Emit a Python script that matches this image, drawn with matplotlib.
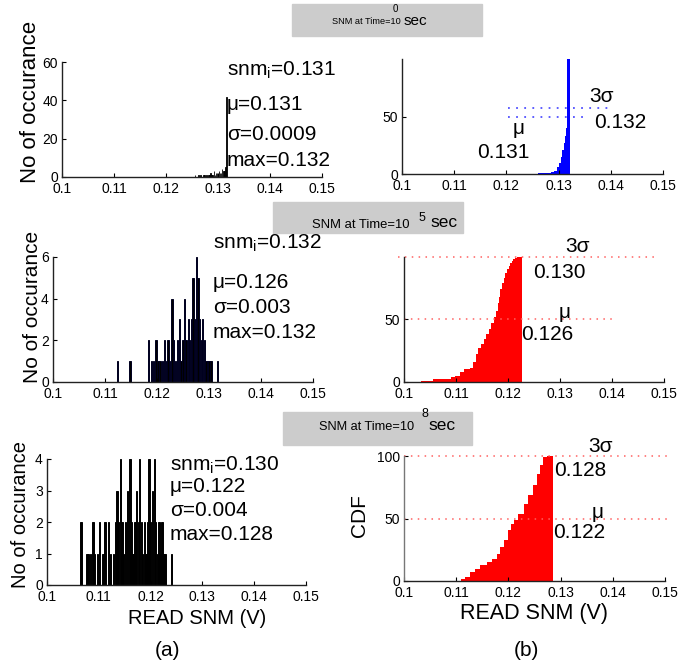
import numpy as np
import matplotlib
matplotlib.use("Agg")
import matplotlib.pyplot as plt
from matplotlib.patches import Rectangle

plt.rcParams['font.family'] = ['Liberation Sans', 'DejaVu Sans']
plt.rcParams['mathtext.fontset'] = 'custom'
plt.rcParams['mathtext.rm'] = 'Liberation Sans'

# ---------------- data ----------------
x_ticks = [0.10, 0.11, 0.12, 0.13, 0.14, 0.15]
x_tick_labels = ["0.1", "0.11", "0.12", "0.13", "0.14", "0.15"]

# Histograms (bin centres, counts)
h1_x = [0.1256 + 0.0002 * i for i in range(31)]
h1_c = [1, 0, 0, 1, 0, 1, 0, 0, 1, 1, 0, 1, 0, 1, 1, 2, 1, 1, 3, 1,
        2, 2, 1, 3, 2, 2, 4, 3, 3, 5, 42]

h2_x = [0.1124, 0.1148, 0.1184, 0.1190, 0.1193, 0.1198, 0.1202, 0.1206, 0.1210, 0.1214,
        0.1218, 0.1221, 0.1224, 0.1229, 0.1232, 0.1236, 0.1240, 0.1243, 0.1246, 0.1250,
        0.1253, 0.1256, 0.1260, 0.1263, 0.1266, 0.1269, 0.1272, 0.1276, 0.1279, 0.1282,
        0.1285, 0.1288, 0.1291, 0.1294, 0.1297, 0.1300, 0.1304, 0.1316]
h2_c = [1, 1, 2, 1, 1, 2, 1, 1, 1, 2, 1, 2, 1, 4, 2, 1, 2, 3, 1, 2,
        4, 2, 3, 2, 3, 5, 3, 6, 5, 3, 2, 3, 2, 1, 1, 1, 1, 1]

h3_x = [0.1064, 0.1067, 0.1077, 0.1080, 0.1084, 0.1089, 0.1092, 0.1098, 0.1102, 0.1108,
        0.1112, 0.1118, 0.1122, 0.1128, 0.1132, 0.1135, 0.1138, 0.1142, 0.1145, 0.1148,
        0.1152, 0.1156, 0.1160, 0.1163, 0.1166, 0.1170, 0.1173, 0.1176, 0.1179, 0.1182,
        0.1185, 0.1188, 0.1191, 0.1194, 0.1197, 0.1200, 0.1203, 0.1207, 0.1210, 0.1213,
        0.1216, 0.1219, 0.1222, 0.1225, 0.1228, 0.1241]
h3_c = [2, 2, 1, 1, 1, 2, 1, 1, 2, 1, 2, 2, 1, 1, 2, 3, 2, 4, 2, 1,
        2, 3, 4, 2, 1, 2, 3, 2, 4, 2, 1, 2, 1, 2, 4, 2, 3, 4, 2, 1,
        2, 1, 2, 1, 1, 1]

# CDFs (step points)
c1_x = [0.1261, 0.1285, 0.1292, 0.1297, 0.1301, 0.1304, 0.1307, 0.1310, 0.1312, 0.1314,
        0.1316, 0.1317, 0.1322]
c1_y = [1, 2, 3, 6, 10, 15, 21, 27, 33, 40, 48, 100, 100]

c2_x = [0.1033, 0.1056, 0.1091, 0.1098, 0.1108, 0.1115, 0.1127, 0.1133, 0.1138, 0.1143,
        0.1148, 0.1153, 0.1158, 0.1163, 0.1168, 0.1173, 0.1177, 0.1180, 0.1183, 0.1185,
        0.1189, 0.1192, 0.1195, 0.1198, 0.1201, 0.1204, 0.1207, 0.1210, 0.1214, 0.1217,
        0.1226]
c2_y = [1, 2, 4, 5, 8, 10, 11, 16, 22, 27, 30, 34, 38, 42, 47, 52, 57, 63, 68, 74,
        79, 83, 87, 90, 93, 95, 97, 98, 99, 100, 100]

c3_x = [0.1110, 0.1117, 0.1126, 0.1136, 0.1146, 0.1159, 0.1168, 0.1178, 0.1184, 0.1191,
        0.1200, 0.1205, 0.1210, 0.1219, 0.1229, 0.1238, 0.1248, 0.1255, 0.1261, 0.1267,
        0.1273, 0.1285]
c3_y = [2, 3.5, 7.5, 10, 13, 15.5, 18, 22, 27.5, 33, 41, 46, 49, 54, 62, 69, 77, 86, 93, 99,
        100, 100]

# reference (dotted) lines: (y, x_start, x_end)
r1_lines = [(57.5, 0.1203, 0.1404), (50, 0.1203, 0.1347)]
r2_lines = [(100, 0.0989, 0.1483), (50, 0.1000, 0.1406)]
r3_lines = [(100, 0.1000, 0.1510), (50, 0.1000, 0.1510)]

stats = [["0.131", "0.131", "0.0009", "0.132"],
         ["0.132", "0.126", "0.003", "0.132"],
         ["0.130", "0.122", "0.004", "0.128"]]
cdf_labels = [("0.131", "0.132"), ("0.126", "0.130"), ("0.122", "0.128")]
times = ["0", "5", "8"]

# ---------------- figure ----------------
W, H = 699, 669
fig = plt.figure(figsize=(W / 100, H / 100), dpi=100)


def add_ax(l, r, b, t):
    return fig.add_axes([l / W, 1 - b / H, (r - l) / W, (b - t) / H])


def ftxt(x, y, s, **kw):
    kw.setdefault('va', 'center')
    kw.setdefault('ha', 'left')
    return fig.text(x / W, 1 - y / H, s, **kw)


def style(ax, yt, ylim):
    ax.set_xlim(0.1, 0.15)
    ax.set_ylim(*ylim)
    ax.set_xticks(x_ticks)
    ax.set_xticklabels(x_tick_labels)
    ax.set_yticks(yt)
    for s in ['top', 'right']:
        ax.spines[s].set_visible(False)
    for s in ['left', 'bottom']:
        ax.spines[s].set_linewidth(1.0)
        ax.spines[s].set_color('#222222')
    ax.tick_params(direction='in', length=3, labelsize=10, width=0.8)
    ax.tick_params(axis='x', pad=3.5)
    ax.tick_params(axis='y', pad=3)
    ax.patch.set_alpha(0)


# gray title boxes
boxes = [(292, 4, 482, 36), (273, 202, 463, 233), (283, 412, 472, 445)]
for (x0, y0, x1, y1) in boxes:
    fig.patches.append(Rectangle((x0 / W, 1 - y1 / H), (x1 - x0) / W, (y1 - y0) / H,
                                 transform=fig.transFigure, color='#cccccc', zorder=0))
# title texts
ftxt(332, 22, "SNM at Time=10", fontsize=6.6)
ftxt(393, 9, times[0], fontsize=7)
ftxt(404, 21, "sec", fontsize=11)
ftxt(312, 225, "SNM at Time=10", fontsize=9.4)
ftxt(419, 218, times[1], fontsize=9)
ftxt(430, 223, "sec", fontsize=12.5)
ftxt(319, 427, "SNM at Time=10", fontsize=9.2)
ftxt(421, 414, times[2], fontsize=9)
ftxt(428, 426, "sec", fontsize=12.5)

# ---------- left histograms ----------
axL1 = add_ax(62, 322, 177, 62)
axL1.bar(h1_x, h1_c, width=0.00013, color='black', edgecolor='black', linewidth=0.6)
style(axL1, [0, 20, 40, 60], (0, 60))

axL2 = add_ax(53, 313, 382, 257)
axL2.bar(h2_x, h2_c, width=0.00026, color='black', edgecolor='#000020', linewidth=0.7)
style(axL2, [0, 2, 4, 6], (0, 6))

axL3 = add_ax(47, 306, 585, 459)
axL3.bar(h3_x, h3_c, width=0.00024, color='black', edgecolor='black', linewidth=0.7)
style(axL3, [0, 1, 2, 3, 4], (0, 4))

# ---------- right CDFs ----------
axR1 = add_ax(402, 663, 174, 59)
axR1.fill_between(c1_x, c1_y, step='post', color='#0000ff', linewidth=0)
for (yv, xa, xb) in r1_lines:
    axR1.plot([xa, xb], [yv, yv], linestyle=(0, (1, 3.5)), color='#5050ff', lw=1.3)
style(axR1, [0, 50], (0, 100))

axR2 = add_ax(404, 664, 382, 257)
axR2.fill_between(c2_x, c2_y, step='post', color='#ff0000', linewidth=0)
for (yv, xa, xb) in r2_lines:
    axR2.plot([xa, xb], [yv, yv], linestyle=(0, (1, 3.5)), color='#ff6060', lw=1.1,
              clip_on=False)
style(axR2, [0, 50], (0, 100))

axR3 = add_ax(404, 665, 581, 456)
axR3.fill_between(c3_x, c3_y, step='post', color='#ff0000', linewidth=0)
for (yv, xa, xb) in r3_lines:
    axR3.plot([xa, xb], [yv, yv], linestyle=(0, (1, 3.5)), color='#ff6060', lw=1.1,
              clip_on=False)
style(axR3, [0, 50, 100], (0, 100))
axR3.spines['left'].set_color('#777777')

# ---------- stats text on left panels ----------
FS = 15
stat_pos = [(227, [70, 104, 135, 160]), (213, [243, 282, 307, 333]), (170, [465, 487, 510, 535])]
for (x0, ys), st in zip(stat_pos, stats):
    ftxt(x0, ys[0], r"snm$_\mathregular{i}$=" + st[0], fontsize=FS)
    ftxt(x0, ys[1], "\u03bc=" + st[1], fontsize=FS)
    ftxt(x0, ys[2], "\u03c3=" + st[2], fontsize=FS)
    ftxt(x0, ys[3], "max=" + st[3], fontsize=FS)

# ---------- labels on right panels ----------
# row 1
ftxt(589, 97, "3\u03c3", fontsize=FS)
ftxt(594, 122, cdf_labels[0][1], fontsize=FS)
ftxt(519, 128, "\u03bc", fontsize=FS, ha='center')
ftxt(477, 152, cdf_labels[0][0], fontsize=FS)
# row 2
ftxt(565, 247, "3\u03c3", fontsize=FS)
ftxt(533, 272, cdf_labels[1][1], fontsize=FS)
ftxt(565, 312, "\u03bc", fontsize=FS, ha='center')
ftxt(521, 334, cdf_labels[1][0], fontsize=FS)
# row 3
ftxt(588, 446, "3\u03c3", fontsize=FS)
ftxt(554, 470, cdf_labels[2][1], fontsize=FS)
ftxt(598, 512, "\u03bc", fontsize=FS, ha='center')
ftxt(553, 533, cdf_labels[2][0], fontsize=FS)

# ---------- axis labels ----------
ftxt(31, 102, "No of occurance", fontsize=16, rotation=90, ha='center')
ftxt(33, 307, "No of occurance", fontsize=15, rotation=90, ha='center')
ftxt(21, 514, "No of occurance", fontsize=14.5, rotation=90, ha='center')
ftxt(360, 516, "CDF", fontsize=15, rotation=90, ha='center')
ftxt(197, 618, "READ SNM (V)", fontsize=14.5, ha='center')
ftxt(534, 613, "READ SNM (V)", fontsize=15.5, ha='center')
ftxt(168, 650, "(a)", fontsize=15, ha='center')
ftxt(526, 650, "(b)", fontsize=15, ha='center')

fig.savefig("out.png", dpi=100)
